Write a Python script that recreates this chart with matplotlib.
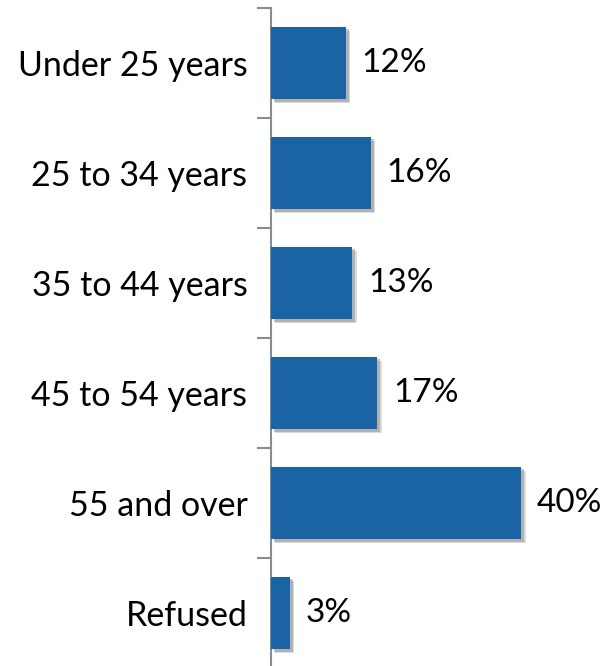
import matplotlib
matplotlib.use("Agg")
import matplotlib.pyplot as plt
import matplotlib.patheffects as pe

categories = ["Under 25 years", "25 to 34 years", "35 to 44 years",
              "45 to 54 years", "55 and over", "Refused"]
values = [12, 16, 13, 17, 40, 3]

plt.rcParams['font.family'] = ['Lato', 'DejaVu Sans']

W, H = 609, 666
fig = plt.figure(figsize=(W / 100, H / 100), dpi=100)
ax = fig.add_axes([271 / W, -2 / H, (W - 271) / W, 660 / H])

ypos = list(range(len(categories)))
bars = ax.barh(ypos, values, height=0.66, color="#1a63a5", zorder=3)
for b in bars:
    b.set_path_effects([
        pe.SimplePatchShadow(offset=(3, -3), shadow_rgbFace="#999999", alpha=0.35),
        pe.SimplePatchShadow(offset=(2, -2), shadow_rgbFace="#888888", alpha=0.5),
        pe.Normal()])

for y, v in zip(ypos, values):
    ax.text(v + 2.5, y, f"{v}%", va="center", ha="left", fontsize=24, color="black")

ax.set_xlim(0, 54)
ax.set_ylim(len(categories) - 0.5, -0.5)
ax.set_yticks(ypos)
ax.set_yticklabels(categories, fontsize=24.5)
ax.set_yticks([i - 0.5 for i in range(len(categories) + 1)], minor=True)
ax.tick_params(axis="y", which="major", length=0, pad=17)
ax.tick_params(axis="y", which="minor", length=10, width=1.5, color="#8c8c8c")
ax.set_xticks([])
for s in ["top", "right", "bottom"]:
    ax.spines[s].set_visible(False)
ax.spines["left"].set_color("#8c8c8c")
ax.spines["left"].set_linewidth(1.5)

fig.savefig("out.png", dpi=100)
